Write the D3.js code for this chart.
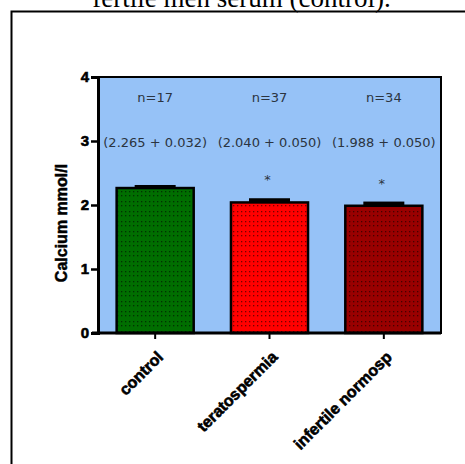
<!DOCTYPE html>
<html><head><meta charset="utf-8">
<script src="https://cdn.jsdelivr.net/npm/d3@7"></script>
<style>body{margin:0;background:#fff}svg{display:block}</style>
</head><body>
<script>
const categories = ["control", "teratospermia", "infertile normosp"];
const means = [2.265, 2.040, 1.988];
const sems = [0.032, 0.050, 0.050];
const nLabels = ["n=17", "n=37", "n=34"];
const valueLabels = ["(2.265 + 0.032)", "(2.040 + 0.050)", "(1.988 + 0.050)"];
const stars = ["", "*", "*"];
const barColors = ["#006e00", "#ff0000", "#990000"];
const yTicks = [0, 1, 2, 3, 4];

const W = 465, H = 464;
const svg = d3.select("body").append("svg").attr("width", W).attr("height", H);

const defs = svg.append("defs");
barColors.forEach((c, i) => {
  const p = defs.append("pattern").attr("id", "pat" + i).attr("patternUnits", "userSpaceOnUse")
    .attr("width", 4).attr("height", 10);
  p.append("rect").attr("width", 4).attr("height", 10).attr("fill", c);
  [1, 5].forEach(yy => p.append("rect").attr("x", 1).attr("y", yy).attr("width", 1.3).attr("height", 1.3)
    .attr("fill", "#000").attr("opacity", 0.55));
});

// title (cut off at top, as in the source)
svg.append("text").attr("x", 241.5).attr("y", 7).attr("text-anchor", "middle")
  .attr("font-family", "Liberation Serif, Times New Roman, serif").attr("font-size", 27)
  .text("fertile men serum (control).");

// outer frame
svg.append("rect").attr("x", 11.5).attr("y", 11.5).attr("width", 470).attr("height", 470)
  .attr("fill", "none").attr("stroke", "#000").attr("stroke-width", 2);

const x0 = 98, x1 = 441, yTop = 77, yBot = 333;
const x = d3.scaleBand().domain(categories).range([x0, x1]).paddingInner(0.326).paddingOuter(0.163);
const y = d3.scaleLinear().domain([0, 4]).range([yBot, yTop]);

// plot background
svg.append("rect").attr("x", x0).attr("y", yTop).attr("width", x1 - x0).attr("height", yBot - yTop)
  .attr("fill", "#96c2f7").attr("stroke", "#000").attr("stroke-width", 2);

// bars
svg.selectAll("rect.bar").data(categories).join("rect").attr("class", "bar")
  .attr("x", d => x(d)).attr("width", x.bandwidth())
  .attr("y", (d, i) => y(means[i])).attr("height", (d, i) => yBot - y(means[i]))
  .attr("fill", (d, i) => `url(#pat${i})`).attr("stroke", "#000").attr("stroke-width", 2.5);

// error bars
const capW = 41;
categories.forEach((c, i) => {
  const cx = x(c) + x.bandwidth() / 2;
  svg.append("rect").attr("x", cx - capW / 2).attr("y", y(means[i] + sems[i]) - 1)
    .attr("width", capW).attr("height", y(means[i]) - y(means[i] + sems[i]) + 1).attr("fill", "#000");
});

// axes
const yAxis = d3.axisLeft(y).tickValues(yTicks).tickFormat(d3.format("d")).tickSize(7).tickPadding(2);
const gy = svg.append("g").attr("transform", `translate(${x0},0)`).call(yAxis);
gy.select(".domain").attr("stroke-width", 3);
gy.selectAll(".tick line").attr("stroke-width", 2.5);
gy.selectAll(".tick text").attr("font-family", "Liberation Sans, Arial, sans-serif")
  .attr("font-weight", "bold").attr("font-size", 15).attr("fill", "#000")
  .attr("stroke", "#000").attr("stroke-width", 0.6);

const xAxis = d3.axisBottom(x).tickSize(6).tickSizeOuter(0);
const gx = svg.append("g").attr("transform", `translate(0,${yBot})`).call(xAxis);
gx.select(".domain").attr("stroke-width", 3).attr("d", `M${x0 - 6},0H${x1}`);
gx.selectAll(".tick line").attr("stroke-width", 2);
gx.selectAll(".tick text").attr("font-family", "Liberation Sans, Arial, sans-serif")
  .attr("font-weight", "bold").attr("font-size", 16).attr("fill", "#000")
  .attr("stroke", "#000").attr("stroke-width", 0.6)
  .attr("text-anchor", "end").attr("dy", null).attr("y", 0).attr("x", 0)
  .attr("transform", "translate(9,25) rotate(-45)");

// y label
svg.append("text").attr("transform", "translate(67,223) rotate(-90)").attr("text-anchor", "middle")
  .attr("font-family", "Liberation Sans Narrow, Arial Narrow, sans-serif").attr("font-weight", "bold")
  .attr("font-size", 16).attr("stroke", "#000").attr("stroke-width", 0.5).text("Calcium mmol/l");

// annotations
const annFont = "DejaVu Sans, Verdana, sans-serif";
categories.forEach((c, i) => {
  const cx = x(c) + x.bandwidth() / 2;
  svg.append("text").attr("x", cx).attr("y", 102).attr("text-anchor", "middle")
    .attr("font-family", annFont).attr("font-size", 13).attr("fill", "#2b3440").text(nLabels[i]);
  svg.append("text").attr("x", cx).attr("y", 147).attr("text-anchor", "middle")
    .attr("font-family", annFont).attr("font-size", 13).attr("fill", "#2b3440").text(valueLabels[i]);
  if (stars[i]) svg.append("text").attr("x", cx - 2).attr("y", y(means[i] + sems[i]) - 15).attr("text-anchor", "middle")
    .attr("font-family", annFont).attr("font-size", 13).attr("fill", "#2b3440").text(stars[i]);
});
</script>
</body></html>
